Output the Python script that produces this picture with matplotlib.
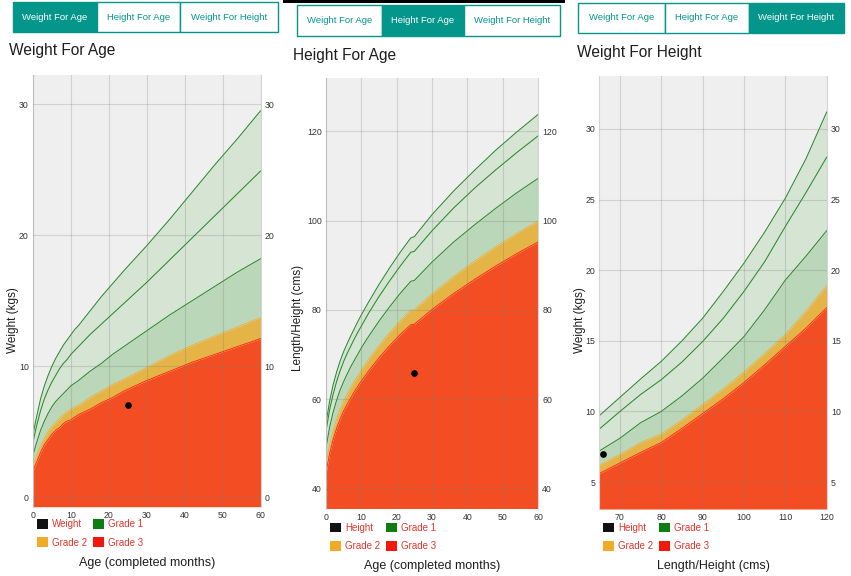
import matplotlib
matplotlib.use("Agg")
import matplotlib.pyplot as plt
from matplotlib.patches import Rectangle, Patch

plt.rcParams['font.family'] = ['Liberation Sans', 'DejaVu Sans']

# ---- data (girls, z-score bands) ----
age_wfa = [0, 1, 2, 3, 4, 5, 6, 7, 8, 9, 10, 11, 12, 15, 18, 21, 24, 30, 36, 42, 48, 54, 60]
wfa_m3 = [2.0, 2.7, 3.4, 4.0, 4.4, 4.8, 5.1, 5.3, 5.6, 5.8, 5.9, 6.1, 6.3, 6.7, 7.2, 7.6, 8.1, 8.9, 9.6, 10.3, 10.9, 11.5, 12.1]
wfa_m2 = [2.4, 3.2, 3.9, 4.5, 5.0, 5.4, 5.7, 6.0, 6.3, 6.5, 6.7, 6.9, 7.0, 7.6, 8.1, 8.6, 9.0, 9.9, 10.8, 11.6, 12.3, 13.0, 13.7]
wfa_med = [3.2, 4.2, 5.1, 5.8, 6.4, 6.9, 7.3, 7.6, 7.9, 8.2, 8.5, 8.7, 8.9, 9.6, 10.2, 10.9, 11.5, 12.7, 13.9, 15.0, 16.1, 17.2, 18.2]
wfa_p2 = [4.2, 5.5, 6.6, 7.5, 8.2, 8.8, 9.3, 9.8, 10.2, 10.5, 10.9, 11.2, 11.5, 12.4, 13.2, 14.0, 14.8, 16.4, 18.1, 19.8, 21.5, 23.2, 24.9]
wfa_p3 = [4.8, 6.2, 7.5, 8.5, 9.3, 10.0, 10.6, 11.1, 11.6, 12.0, 12.4, 12.8, 13.1, 14.2, 15.3, 16.3, 17.3, 19.2, 21.2, 23.3, 25.4, 27.4, 29.5]

age_hfa = [0, 1, 2, 3, 4, 5, 6, 7, 8, 9, 10, 11, 12, 15, 18, 21, 24, 25, 30, 36, 42, 48, 54, 60]
hfa_m3 = [43.6, 47.8, 51.0, 53.5, 55.6, 57.4, 58.9, 60.3, 61.7, 62.9, 64.1, 65.2, 66.3, 69.3, 72.0, 74.5, 76.7, 76.8, 80.1, 83.6, 86.8, 89.8, 92.6, 95.2]
hfa_m2 = [45.4, 49.8, 53.0, 55.6, 57.8, 59.6, 61.2, 62.7, 64.0, 65.3, 66.5, 67.7, 68.9, 72.0, 74.9, 77.5, 80.0, 80.0, 83.6, 87.4, 90.9, 94.1, 97.1, 99.9]
hfa_med = [49.1, 53.7, 57.1, 59.8, 62.1, 64.0, 65.7, 67.3, 68.7, 70.1, 71.5, 72.8, 74.0, 77.5, 80.7, 83.7, 86.4, 86.6, 90.7, 95.1, 99.0, 102.7, 106.2, 109.4]
hfa_p2 = [52.9, 57.6, 61.1, 64.0, 66.4, 68.5, 70.3, 71.9, 73.5, 75.0, 76.4, 77.8, 79.2, 83.0, 86.5, 89.8, 92.9, 93.1, 97.7, 102.7, 107.2, 111.3, 115.2, 118.9]
hfa_p3 = [54.7, 59.5, 63.2, 66.1, 68.6, 70.7, 72.5, 74.2, 75.8, 77.4, 78.9, 80.3, 81.7, 85.7, 89.4, 92.9, 96.1, 96.4, 101.3, 106.5, 111.2, 115.7, 119.8, 123.7]

ht_wfh = [65, 70, 75, 80, 85, 90, 95, 100, 105, 110, 115, 120]
wfh_m3 = [5.6, 6.35, 7.1, 7.8, 8.8, 9.85, 10.9, 12.05, 13.3, 14.6, 15.9, 17.35]
wfh_m2 = [6.2, 6.95, 7.8, 8.4, 9.4, 10.5, 11.6, 12.8, 14.1, 15.45, 17.1, 18.9]
wfh_med = [7.2, 8.1, 9.2, 10.0, 11.1, 12.35, 13.8, 15.3, 17.2, 19.3, 21.0, 22.8]
wfh_p2 = [8.75, 10.0, 11.2, 12.25, 13.5, 14.95, 16.6, 18.5, 20.6, 23.1, 25.5, 28.0]
wfh_p3 = [9.7, 11.0, 12.3, 13.55, 15.0, 16.6, 18.5, 20.5, 22.7, 25.1, 27.9, 31.2]

# the child's measurement on each chart
child_wfa = (25, 7.0)
child_hfa = (25, 66.0)
child_wfh = (66, 7.0)

tab_names = ['Weight For Age', 'Height For Age', 'Weight For Height']

# ---- colours ----
BG = '#efefef'
RED = '#f34e23'
RED_EDGE = '#ff2a12'
ORANGE = '#e4b446'
ORANGE_EDGE = '#f2ac2a'
DKGREEN = '#bbd7ba'
LTGREEN = '#d6e4d4'
LINE_GREEN = '#2b8a2b'
TEAL = '#04968a'
LEG_TEXT = '#e2352b'

W, H = 851, 576
fig = plt.figure(figsize=(W / 100, H / 100), dpi=100)
fig.patch.set_facecolor('white')


def rect(l, t, r, b):
    # pixel box -> figure fraction [left, bottom, width, height]
    return [l / W, 1 - b / H, (r - l) / W, (b - t) / H]


def draw_chart(box, x, m3, m2, med, p2, p3, child, xlim, ylim, xticks, yticks, first_label, leg_top):
    ax = fig.add_axes(rect(*box))
    ax.set_facecolor(BG)
    ax.set_xlim(*xlim)
    ax.set_ylim(*ylim)
    low = ylim[0]
    ax.fill_between(x, low, m3, color=RED, lw=0)
    ax.fill_between(x, m3, m2, color=ORANGE, lw=0)
    ax.fill_between(x, m2, med, color=DKGREEN, lw=0)
    ax.fill_between(x, med, p3, color=LTGREEN, lw=0)
    ax.plot(x, m3, color=RED_EDGE, lw=0.7)
    ax.plot(x, m2, color=ORANGE_EDGE, lw=0.6)
    for s in (med, p2, p3):
        ax.plot(x, s, color=LINE_GREEN, lw=0.75)
    ax.plot(child[0], child[1], 'o', color='black', ms=3.8, zorder=6)

    ax.set_xticks(xticks)
    ax.set_yticks(yticks)
    ax.grid(True, color='#7a7a7a', alpha=0.25, lw=0.8)
    ax.set_axisbelow(False)
    ax.tick_params(axis='both', length=0, labelsize=6.3, labelcolor='#333333')
    ax.tick_params(axis='x', pad=3)
    ax.tick_params(axis='y', pad=3, labelright=True)
    for side in ('top', 'bottom'):
        ax.spines[side].set_visible(False)
    for side in ('left', 'right'):
        ax.spines[side].set_color('#d4d4d4')
        ax.spines[side].set_linewidth(0.8)

    handles = [Patch(facecolor='#111111', edgecolor='none', label=first_label),
               Patch(facecolor='#f2ab27', edgecolor='none', label='Grade 2'),
               Patch(facecolor='#0f7d0f', edgecolor='none', label='Grade 1'),
               Patch(facecolor='#f2180c', edgecolor='none', label='Grade 3')]
    leg_x = (box[0] + 3.5) / W
    leg_y = 1 - leg_top / H
    ax.legend(handles=handles, ncol=2, loc='upper left', bbox_to_anchor=(leg_x, leg_y),
              bbox_transform=fig.transFigure, frameon=False, fontsize=7,
              labelcolor=LEG_TEXT, handlelength=1.15, handleheight=1.15,
              handletextpad=0.42, columnspacing=0.6, labelspacing=0.85, borderpad=0,
              borderaxespad=0)
    return ax


def draw_tabs(spans, top, bottom, active):
    for i, (l, r) in enumerate(spans):
        on = i == active
        fig.add_artist(Rectangle((l / W, 1 - bottom / H), (r - l) / W, (bottom - top) / H,
                                 transform=fig.transFigure, facecolor=TEAL if on else 'white',
                                 edgecolor=TEAL, lw=1))
        fig.text((l + r) / 2 / W, 1 - (top + bottom) / 2 / H, tab_names[i],
                 ha='center', va='center', fontsize=6.8,
                 color='white' if on else TEAL)


# panel 1: weight for age
draw_tabs([(12.7, 96.7), (96.7, 180.3), (180.3, 277.7)], 2, 32, 0)
fig.text(9.3 / W, 1 - 55 / H, 'Weight For Age', fontsize=11.2, color='#1e1e1e', va='baseline')
draw_chart((33, 75, 260.5, 506.7), age_wfa, wfa_m3, wfa_m2, wfa_med, wfa_p2, wfa_p3,
           child_wfa, (0, 60), (-0.74, 32.24), range(0, 61, 10), [0, 10, 20, 30], 'Weight', 519)
fig.text(13.3 / W, 1 - 320 / H, 'Weight (kgs)', rotation=90, fontsize=8.5,
         ha='center', va='center', color='#1e1e1e')
fig.text(147 / W, 1 - 563.3 / H, 'Age (completed months)', fontsize=9,
         ha='center', va='center', color='#1e1e1e')

# panel 2: height for age
fig.add_artist(Rectangle((283 / W, 1 - 2.5 / H), (565 - 283) / W, 2.5 / H,
                         transform=fig.transFigure, facecolor='black', lw=0))
draw_tabs([(296.7, 381.7), (381.7, 464.3), (464.3, 560.3)], 5, 35.7, 1)
fig.text(293.3 / W, 1 - 60 / H, 'Height For Age', fontsize=11.2, color='#1e1e1e', va='baseline')
draw_chart((326, 78.3, 538, 508.5), age_hfa, hfa_m3, hfa_m2, hfa_med, hfa_p2, hfa_p3,
           child_hfa, (0, 60), (35.6, 131.8), range(0, 61, 10), range(40, 121, 20), 'Height', 522.5)
fig.text(298 / W, 1 - 318 / H, 'Length/Height (cms)', rotation=90, fontsize=8.5,
         ha='center', va='center', color='#1e1e1e')
fig.text(432.3 / W, 1 - 565.7 / H, 'Age (completed months)', fontsize=9,
         ha='center', va='center', color='#1e1e1e')

# panel 3: weight for height
draw_tabs([(578.3, 665), (665, 749), (749, 844)], 2.7, 32.7, 2)
fig.text(576.7 / W, 1 - 56.7 / H, 'Weight For Height', fontsize=11.2, color='#1e1e1e', va='baseline')
draw_chart((599.3, 76, 826.7, 509), ht_wfh, wfh_m3, wfh_m2, wfh_med, wfh_p2, wfh_p3,
           child_wfh, (65, 120), (3.09, 33.75), range(70, 121, 10), range(5, 31, 5), 'Height', 522.5)
fig.text(580 / W, 1 - 320 / H, 'Weight (kgs)', rotation=90, fontsize=8.5,
         ha='center', va='center', color='#1e1e1e')
fig.text(713.8 / W, 1 - 565.7 / H, 'Length/Height (cms)', fontsize=9,
         ha='center', va='center', color='#1e1e1e')

fig.savefig('out.png', dpi=100)
